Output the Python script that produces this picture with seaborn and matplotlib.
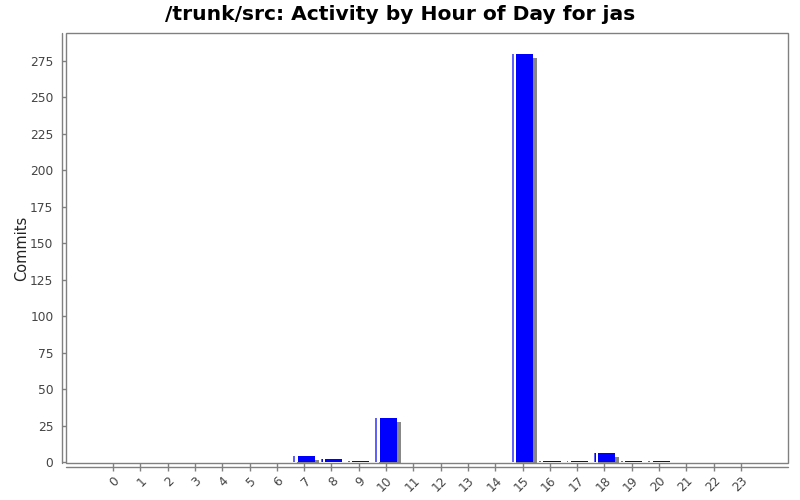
import matplotlib
matplotlib.use("Agg")
import matplotlib.pyplot as plt
import matplotlib.transforms as mtransforms
from matplotlib.patches import Rectangle
import seaborn as sns
import pandas as pd
import numpy as np

hours = [str(h) for h in range(24)]
commits = [0, 0, 0, 0, 0, 0, 0, 4, 2, 1, 30, 0, 0, 0, 0, 280, 1, 1, 6, 1, 1, 0, 0, 0]
title = "/trunk/src: Activity by Hour of Day for jas"
ylabel = "Commits"
yticks = [0, 25, 50, 75, 100, 125, 150, 175, 200, 225, 250, 275]

sns.set_theme(style="white")
plt.rcParams['font.family'] = ['DejaVu Sans']

df = pd.DataFrame({"hour": hours, "commits": commits})

fig = plt.figure(figsize=(8, 5), dpi=100)
ax = fig.add_axes([66/800, 37/500, 722/800, 430/500])

BW = 0.78
# shadow
sns.barplot(data=df, x="hour", y="commits", order=hours, color="#888888",
            saturation=1, width=BW, ax=ax, errorbar=None)
shadow_patches = list(ax.patches)
off = mtransforms.offset_copy(ax.transData, fig=fig, x=4, y=-4, units='dots')
for p in shadow_patches:
    p.set_transform(off)
    p.set_linewidth(0)

# main bars
sns.barplot(data=df, x="hour", y="commits", order=hours, color="#0000ff",
            saturation=1, width=BW, ax=ax, errorbar=None)
for p in ax.patches[len(shadow_patches):]:
    p.set_linewidth(0)

# highlight stripes on left side of bars
xs = np.arange(len(hours))
ax.bar(xs - BW/2 + 0.03, commits, width=0.06, color="#6060ff", linewidth=0)
ax.bar(xs - BW/2 + 0.11, commits, width=0.09, color="white", linewidth=0)

ax.set_xlim(-1.72, 24.72)
ax.set_ylim(-0.7, 294.2)
ax.set_yticks(yticks)
ax.set_yticklabels([str(t) for t in yticks])
ax.set_xlabel("")
ax.set_ylabel(ylabel, fontsize=10.5, color="#222222", labelpad=1)

fig.text(0.5, 1 - 14/500, title, fontsize=14.6, fontweight="bold", color="black",
         ha="center", va="center")

# plot frame
for s in ax.spines.values():
    s.set_visible(False)
ax.add_patch(Rectangle((0, 0), 1, 1, transform=ax.transAxes, fill=False,
                       edgecolor="#808080", linewidth=1, clip_on=False, zorder=5))
# offset axis lines
ax.plot([-0.0055, -0.0055], [0, 1], transform=ax.transAxes, color="#808080",
        lw=1, clip_on=False)
ax.plot([0, 1], [-0.0093, -0.0093], transform=ax.transAxes, color="#808080",
        lw=1, clip_on=False)

ax.tick_params(axis='y', which='both', left=True, length=3, width=1, color="#808080",
               labelsize=8.8, labelcolor="#444444", pad=6)
ax.tick_params(axis='x', which='both', bottom=True, length=6, width=1, color="#808080",
               labelsize=8.8, labelcolor="#444444", pad=2)
for lbl in ax.get_xticklabels():
    lbl.set_rotation(45)
    lbl.set_ha("right")
    lbl.set_rotation_mode("anchor")

fig.savefig("out.png", dpi=100)
